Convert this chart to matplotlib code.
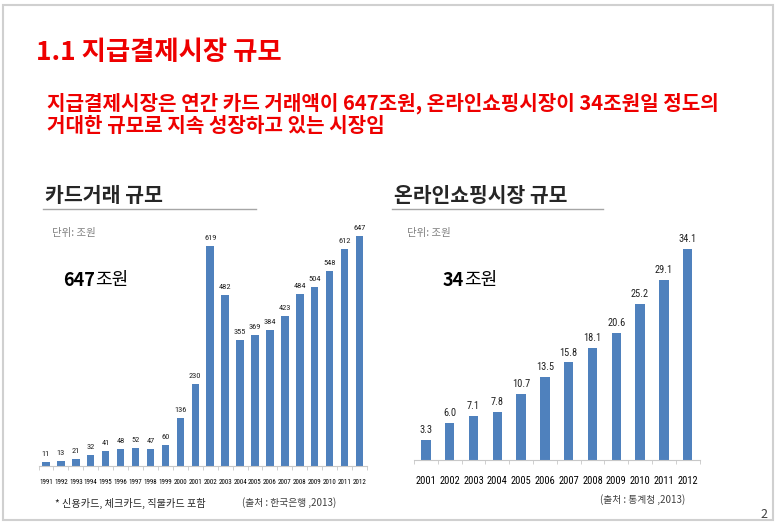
import matplotlib
matplotlib.use("Agg")
import matplotlib.pyplot as plt
from matplotlib.patches import Rectangle
from matplotlib.lines import Line2D
from matplotlib.ticker import FixedLocator

W, H = 778, 530
KR = ['Noto Sans CJK KR', 'DejaVu Sans']
NARROW = ['Roboto Condensed', 'DejaVu Sans']
plt.rcParams['font.family'] = KR

BAR = '#4F81BD'
RED = '#EE0000'

# card transaction volume (trillion won)
card_years = [str(y) for y in range(1991, 2013)]
card_values = [11, 13, 21, 32, 41, 48, 52, 47, 60, 136, 230, 619, 482,
               355, 369, 384, 423, 484, 504, 548, 612, 647]

# online shopping market (trillion won)
shop_years = [str(y) for y in range(2001, 2013)]
shop_values = [3.3, 6.0, 7.1, 7.8, 10.7, 13.5, 15.8, 18.1, 20.6, 25.2, 29.1, 34.1]


def px(x, y):
    return x / W, 1 - y / H


def ax_px(fig, left, top, right, bottom):
    return fig.add_axes([left / W, 1 - bottom / H, (right - left) / W, (bottom - top) / H])


def txt(fig, x, y, s, **kw):
    fx, fy = px(x, y)
    fig.text(fx, fy, s, **kw)


def bar_panel(ax, labels, values, ymax, width, lab_size, tick_size, pad, fmt):
    xs = range(len(values))
    ax.bar(xs, values, width=width, color=BAR, zorder=2)
    for x, v in zip(xs, values):
        ax.text(x, v + ymax * 0.02, fmt.format(v), ha='center', va='bottom',
                fontsize=lab_size, family=NARROW, fontstretch='condensed', color='#222222')
    ax.set_xlim(-0.5, len(values) - 0.5)
    ax.set_ylim(0, ymax)
    ax.set_xticks(list(xs))
    ax.set_xticklabels(labels, fontsize=tick_size, family=NARROW, fontstretch='condensed')
    ax.xaxis.set_minor_locator(FixedLocator([i - 0.5 for i in range(len(values) + 1)]))
    ax.tick_params(axis='x', which='major', length=0, pad=pad)
    ax.tick_params(axis='x', which='minor', length=3, color='#C8C8C8', direction='out')
    ax.set_yticks([])
    for side in ['top', 'right', 'left']:
        ax.spines[side].set_visible(False)
    ax.spines['bottom'].set_color('#C8C8C8')
    ax.patch.set_alpha(0)


fig = plt.figure(figsize=(W / 100, H / 100), dpi=100)

# slide frame
fig.patches.append(Rectangle((3 / W, 1 - 520 / H), 770 / W, 515 / H, transform=fig.transFigure,
                             fill=False, edgecolor='#D0D0D0', linewidth=1.5))

txt(fig, 36, 52, '1.1 지급결제시장 규모', fontsize=19, fontweight='bold', color=RED, va='center')
txt(fig, 47, 103, '지급결제시장은 연간 카드 거래액이 647조원, 온라인쇼핑시장이 34조원일 정도의',
    fontsize=14.5, fontweight='bold', color=RED, va='center')
txt(fig, 47, 126, '거대한 규모로 지속 성장하고 있는 시장임',
    fontsize=14.5, fontweight='bold', color=RED, va='center')

# left panel headings
txt(fig, 45, 195, '카드거래 규모', fontsize=14.8, fontweight='bold', color='#262626', va='center')
fig.add_artist(Line2D([43 / W, 256 / W], [1 - 209 / H] * 2, color='#A6A6A6', linewidth=1))
txt(fig, 52, 233, '단위: 조원', fontsize=7.5, color='#808080', va='center')
txt(fig, 63, 280, '647', fontsize=13, fontweight='bold', color='black', va='center')
txt(fig, 95, 280, '조원', fontsize=13, color='black', va='center')

ax1 = ax_px(fig, 38.5, 217.5, 367, 466)
bar_panel(ax1, card_years, card_values, 700, 0.5, 6, 5, 9, '{:d}')

txt(fig, 55, 503, '* 신용카드, 체크카드, 직불카드 포함', fontsize=7.3, color='#262626', va='center')
txt(fig, 242, 503, '(출처 : 한국은행 ,2013)', fontsize=7, color='#404040', va='center')

# right panel headings
txt(fig, 394, 195, '온라인쇼핑시장 규모', fontsize=14.7, fontweight='bold', color='#262626', va='center')
fig.add_artist(Line2D([392 / W, 603 / W], [1 - 209 / H] * 2, color='#A6A6A6', linewidth=1))
txt(fig, 407, 233, '단위: 조원', fontsize=7.5, color='#808080', va='center')
txt(fig, 443, 280, '34', fontsize=13, fontweight='bold', color='black', va='center')
txt(fig, 464, 280, '조원', fontsize=13, color='black', va='center')

ax2 = ax_px(fig, 414, 212.7, 699.6, 460.3)
bar_panel(ax2, shop_years, shop_values, 40, 0.4, 7.5, 7.5, 11, '{:.1f}')

txt(fig, 600, 500, '(출처 : 통계청 ,2013)', fontsize=7, color='#404040', va='center')
txt(fig, 767, 515, '2', fontsize=9, color='#404040', va='center', ha='right')

fig.savefig('out.png', dpi=100)
